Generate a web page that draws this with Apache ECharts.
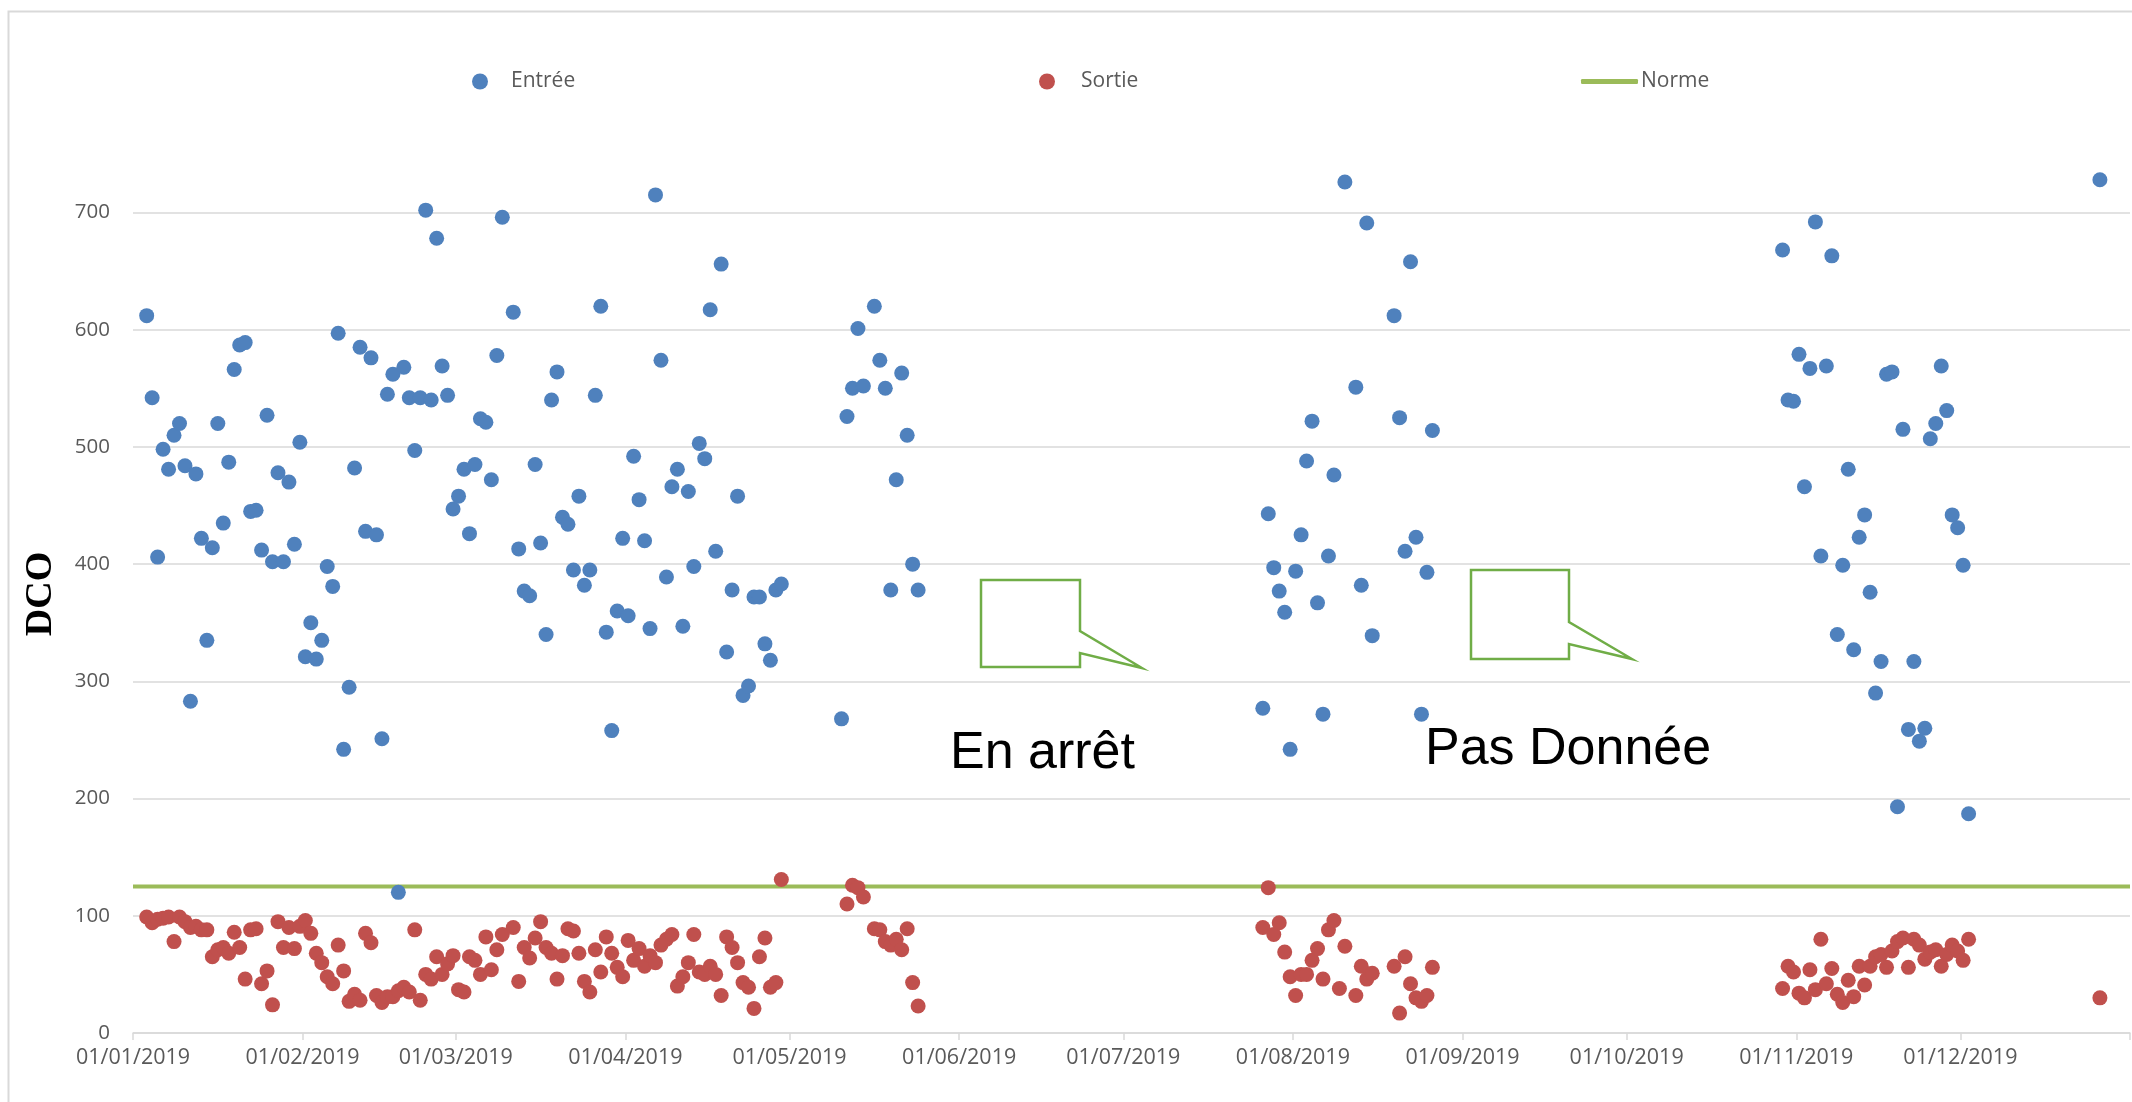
<!DOCTYPE html>
<html>
<head>
<meta charset="utf-8">
<title>DCO 2019</title>
<script src="https://cdn.jsdelivr.net/npm/echarts@6/dist/echarts.min.js"></script>
<style>
  html, body { margin: 0; padding: 0; background: #fff; }
  #container { width: 2132px; height: 1102px; }
</style>
</head>
<body>
<div id="container"></div>
<script>
// --- donnees ---
var monthStarts = [0, 31, 59, 90, 120, 151, 181, 212, 243, 273, 304, 334, 365]; // jours depuis le 01/01/2019
var monthLabels = ["01/01/2019", "01/02/2019", "01/03/2019", "01/04/2019", "01/05/2019", "01/06/2019",
  "01/07/2019", "01/08/2019", "01/09/2019", "01/10/2019", "01/11/2019", "01/12/2019"];

var normeValue = 125;

// une valeur par jour a partir de la date de debut (null = pas de mesure)
var periodStarts = ["2019-01-03", "2019-05-10", "2019-07-26", "2019-10-29", "2019-12-26"];

var entreeJanAvr = [612, 542, 406, 498, 481, 510, 520, 484, 283, 477,
  422, 335, 414, 520, 435, 487, 566, 587, 589, 445,
  446, 412, 527, 402, 478, 402, 470, 417, 504, 321,
  350, 319, 335, 398, 381, 597, 242, 295, 482, 585,
  428, 576, 425, 251, 545, 562, 120, 568, 542, 497,
  542, 702, 540, 678, 569, 544, 447, 458, 481, 426,
  485, 524, 521, 472, 578, 696, null,
  615, 413, 377, 373, 485, 418, 340, 540, 564, 440,
  434, 395, 458, 382, 395, 544, 620, 342, 258, 360,
  422, 356, 492, 455, 420, 345, 715, 574, 389, 466,
  481, 347, 462, 398, 503, 490, 617, 411, 656, 325,
  378, 458, 288, 296, 372, 372, 332, 318, 378, 383];
var sortieJanAvr = [99, 94, 97, 98, 99, 78, 99, 95, 90, 91,
  88, 88, 65, 71, 73, 68, 86, 73, 46, 88,
  89, 42, 53, 24, 95, 73, 90, 72, 91, 96,
  85, 68, 60, 48, 42, 75, 53, 27, 33, 28,
  85, 77, 32, 26, 31, 31, 36, 39, 35, 88,
  28, 50, 46, 65, 50, 59, 66, 37, 35, 65,
  62, 50, 82, 54, 71, 84, null,
  90, 44, 73, 64, 81, 95, 73, 68, 46, 66,
  89, 87, 68, 44, 35, 71, 52, 82, 68, 56,
  48, 79, 62, 72, 57, 66, 60, 75, 80, 84,
  40, 48, 60, 84, 52, 50, 57, 50, 32, 82,
  73, 60, 43, 39, 21, 65, 81, 39, 43, 131];

var entreeMai = [268, 526, 550, 601, 552, null, 620, 574, 550, 378, 472, 563, 510, 400, 378];
var sortieMai = [null, 110, 126, 124, 116, null, 89, 88, 78, 75, 80, 71, 89, 43, 23];

var entreeAout = [277, 443, 397, 377, 359, 242, 394, 425, 488, 522, 367, 272, 407, 476, null, 726, null,
  551, 382, 691, 339, null, null, null, 612, 525, 411, 658, 423, 272, 393, 514];
var sortieAout = [90, 124, 84, 94, 69, 48, 32, 50, 50, 62, 72, 46, 88, 96, 38, 74, null,
  32, 57, 46, 51, null, null, null, 57, 17, 65, 42, 30, 27, 32, 56];

var entreeNov = [668, 540, 539, 579, 466, 567, 692, 407, 569, 663, 340, 399, 481, 327, 423, 442, 376, 290,
  317, 562, 564, 193, 515, 259, 317, 249, 260, 507, 520, 569, 531, 442, 431, 399, 187];
var sortieNov = [38, 57, 52, 34, 30, 54, 37, 80, 42, 55, 33, 26, 45, 31, 57, 41, 57, 65,
  67, 56, 70, 78, 81, 56, 80, 75, 63, 69, 71, 57, 67, 75, 70, 62, 80];

var entreeDec = [728];
var sortieDec = [30];

var entreePeriods = [entreeJanAvr, entreeMai, entreeAout, entreeNov, entreeDec];
var sortiePeriods = [sortieJanAvr, sortieMai, sortieAout, sortieNov, sortieDec];

// jour de l'annee (0 = 01/01), +0.5 pour centrer le point sur sa journee
function dayOfYear(s) {
  var p = s.split("-");
  return (Date.UTC(+p[0], +p[1] - 1, +p[2]) - Date.UTC(2019, 0, 1)) / 86400000;
}

function toPoints(periods) {
  var pts = [];
  for (var i = 0; i < periods.length; i++) {
    var d0 = dayOfYear(periodStarts[i]);
    for (var j = 0; j < periods[i].length; j++) {
      if (periods[i][j] != null) pts.push([d0 + j + 0.5, periods[i][j]]);
    }
  }
  return pts;
}

var grey = "#595959";
var font = "'Open Sans', 'DejaVu Sans', sans-serif";

var dom = document.getElementById("container");
var myChart = echarts.init(dom, null, { renderer: "canvas" });

var option = {
  backgroundColor: "#ffffff",
  animation: false,
  grid: { left: 133, right: 2, top: 212.5, bottom: 69 },
  legend: [
    { data: ["Entrée"], left: 472, top: 71, padding: 0, icon: "circle", itemWidth: 16, itemHeight: 16,
      textStyle: { color: grey, fontSize: 21, fontFamily: font, padding: [0, 0, 0, 18] } },
    { data: ["Sortie"], left: 1039, top: 71, padding: 0, icon: "circle", itemWidth: 16, itemHeight: 16,
      textStyle: { color: grey, fontSize: 21, fontFamily: font, padding: [0, 0, 0, 21] } },
    { data: ["Norme"], left: 1581, top: 71, padding: 0, icon: "roundRect", itemWidth: 57, itemHeight: 5,
      textStyle: { color: grey, fontSize: 21, fontFamily: font, padding: [0, 0, 0, -2] } }
  ],
  xAxis: {
    type: "value",
    min: 0,
    max: 365,
    splitLine: { show: false },
    axisLine: { show: true, lineStyle: { color: "#D9D9D9", width: 1.5 } },
    axisTick: { show: true, length: 7, lineStyle: { color: "#D9D9D9", width: 1.5 }, customValues: monthStarts },
    axisLabel: {
      customValues: monthStarts.slice(0, monthLabels.length),
      color: grey, fontSize: 21.5, fontFamily: font, margin: 14,
      formatter: function (v) {
        var i = monthStarts.indexOf(v);
        return i >= 0 && i < monthLabels.length ? monthLabels[i] : "";
      }
    }
  },
  yAxis: {
    type: "value",
    min: 0,
    max: 700,
    interval: 100,
    axisLine: { show: false },
    axisTick: { show: false },
    axisLabel: { color: grey, fontSize: 20.5, fontFamily: font, margin: 23 },
    splitLine: { lineStyle: { color: "#D9D9D9", width: 1.5 } }
  },
  series: [
    {
      name: "Norme",
      type: "line",
      symbol: "none",
      z: 1,
      color: "#9BBB59",
      lineStyle: { color: "#9BBB59", width: 4 },
      data: [[monthStarts[0], normeValue], [monthStarts[monthStarts.length - 1], normeValue]],
      emphasis: { disabled: true }
    },
    {
      name: "Entrée",
      type: "scatter",
      symbolSize: 15,
      clip: false,
      z: 3,
      itemStyle: { color: "#4F81BD", opacity: 1 },
      data: toPoints(entreePeriods),
      emphasis: { disabled: true }
    },
    {
      name: "Sortie",
      type: "scatter",
      symbolSize: 15,
      clip: false,
      z: 3,
      itemStyle: { color: "#C0504D", opacity: 1 },
      data: toPoints(sortiePeriods),
      emphasis: { disabled: true }
    }
  ],
  graphic: [
    // cadre du graphique
    { type: "rect", left: 6, top: 9, z: -10, silent: true,
      shape: { width: 2200, height: 1200 },
      style: { fill: null, stroke: "#D9D9D9", lineWidth: 2 } },
    // titre de l'axe
    { type: "text", x: 41, y: 594, rotation: Math.PI / 2, silent: true,
      style: { text: "DCO", fill: "#000", font: "bold 38px 'Liberation Serif', 'DejaVu Serif', serif",
        align: "center", verticalAlign: "middle" } },
    // bulles
    { type: "polygon", silent: true, z: 10,
      shape: { points: [[981, 580], [1080, 580], [1080, 631], [1142, 668], [1080, 653], [1080, 667], [981, 667]] },
      style: { fill: "#fff", stroke: "#70AD47", lineWidth: 2.5 } },
    { type: "polygon", silent: true, z: 10,
      shape: { points: [[1471, 570], [1569, 570], [1569, 622], [1632, 659], [1569, 644], [1569, 659], [1471, 659]] },
      style: { fill: "#fff", stroke: "#70AD47", lineWidth: 2.5 } },
    { type: "text", x: 950, y: 780, silent: true, z: 10,
      style: { text: "En arrêt", fill: "#000", font: "52px 'Liberation Sans', Arial, sans-serif",
        align: "left", verticalAlign: "bottom" } },
    { type: "text", x: 1425, y: 776, silent: true, z: 10,
      style: { text: "Pas Donnée", fill: "#000", font: "52px 'Liberation Sans', Arial, sans-serif",
        align: "left", verticalAlign: "bottom" } }
  ]
};

if (option && typeof option === "object") {
  myChart.setOption(option, true);
}
</script>
</body>
</html>
